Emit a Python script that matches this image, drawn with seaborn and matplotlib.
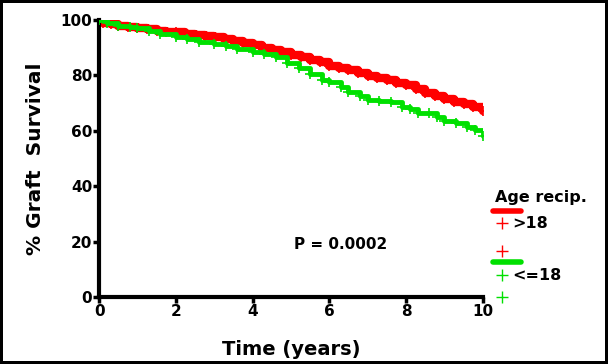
import numpy as np
import pandas as pd
import matplotlib
matplotlib.use("Agg")
import matplotlib.pyplot as plt
import seaborn as sns

# Kaplan-Meier curves (time in years, % graft survival)
t_adult = [0, 0.1, 0.3, 0.5, 0.75, 1.0, 1.25, 1.5, 1.75, 2.0, 2.25, 2.5, 2.75, 3.0,
           3.25, 3.5, 3.75, 4.0, 4.25, 4.5, 4.75, 5.0, 5.25, 5.5, 5.75, 6.0, 6.25,
           6.5, 6.75, 7.0, 7.25, 7.5, 7.75, 8.0, 8.25, 8.5, 8.75, 9.0, 9.25, 9.5,
           9.75, 10.0]
s_adult = [100, 99, 98.5, 98, 97.5, 97, 96.6, 96.2, 95.8, 95.5, 95, 94.6, 94.3, 94,
           93.2, 92.5, 91.8, 91, 90, 89.2, 88.4, 87.5, 86.5, 85.5, 85, 83.5, 82.5,
           82, 81, 79.8, 79, 78.2, 77.3, 76.5, 75, 73.8, 72.6, 71.5, 70.5, 69.6,
           68.5, 67.2]
t_child = [0, 0.2, 0.5, 0.8, 1.0, 1.3, 1.6, 2.0, 2.3, 2.6, 3.0, 3.3, 3.6, 4.0, 4.3,
           4.6, 4.9, 5.2, 5.5, 5.8, 6.0, 6.3, 6.5, 6.8, 7.0, 7.3, 7.6, 7.9, 8.1,
           8.3, 8.6, 8.8, 9.0, 9.3, 9.6, 9.8, 10.0]
s_child = [100, 99, 98, 97.5, 97, 96, 95, 94, 93.2, 92, 91.5, 90.5, 89.5, 88.5, 87.8,
           86.5, 84.5, 82.5, 80.5, 78.5, 77.5, 76, 74, 72.5, 71, 70.8, 70.3, 68.5, 67.8,
           66.5, 66.3, 65, 63.5, 63, 61.5, 60.3, 58.2]
groups = [">18", "<=18"]
colors = ["#ff0000", "#00e000"]

df = pd.concat([
    pd.DataFrame({"t": t_adult, "s": s_adult, "g": groups[0]}),
    pd.DataFrame({"t": t_child, "s": s_child, "g": groups[1]}),
])

sns.set_theme(style="white")
plt.rcParams["font.family"] = ["DejaVu Sans"]
plt.rcParams["font.weight"] = "bold"
plt.rcParams["text.color"] = "black"
plt.rcParams["axes.labelcolor"] = "black"
plt.rcParams["xtick.color"] = "black"
plt.rcParams["ytick.color"] = "black"

fig = plt.figure(figsize=(6.08, 3.64), dpi=100)
ax = fig.add_axes([0.163, 0.184, 0.631, 0.761])

lw = {">18": 6, "<=18": 3.5}
for g, c in zip(groups, colors):
    sub = df[df["g"] == g]
    sns.lineplot(data=sub, x="t", y="s", ax=ax, color=c, estimator=None,
                 drawstyle="steps-post", linewidth=lw[g], marker="+",
                 markersize=7, markeredgewidth=1.2, markeredgecolor=c,
                 legend=False, zorder=3 if g == "<=18" else 2)

ax.set_xlim(0, 10)
ax.set_ylim(0, 100)
ax.set_xticks(np.arange(0, 11, 2))
ax.set_yticks(np.arange(0, 101, 20))
for side in ["top", "right"]:
    ax.spines[side].set_visible(False)
for side in ["left", "bottom"]:
    ax.spines[side].set_linewidth(3)
    ax.spines[side].set_color("black")
ax.tick_params(axis="both", direction="out", length=4, width=2.5, color="black",
               labelcolor="black", labelsize=11, pad=1, left=True, bottom=True)
for lab in ax.get_xticklabels() + ax.get_yticklabels():
    lab.set_fontweight("bold")

ax.set_xlabel("Time (years)", fontsize=14, fontweight="bold", labelpad=15)
ax.set_ylabel("% Graft  Survival", fontsize=14.5, fontweight="bold", labelpad=11)

ax.text(6.3, 19, "P = 0.0002", fontsize=11, fontweight="bold", ha="center", va="center")

# hand-drawn legend at the right of the axes
tr = ax.transAxes
ax.text(1.031, 0.36, "Age recip.", transform=tr, fontsize=11.5, fontweight="bold",
        ha="left", va="center", clip_on=False)
ax.plot([1.026, 1.099], [0.31, 0.31], transform=tr, color=colors[0], lw=4,
        solid_capstyle="round", clip_on=False)
ax.plot([1.049], [0.267], transform=tr, marker="+", color=colors[0], ms=8, mew=1,
        clip_on=False)
ax.text(1.078, 0.267, ">18", transform=tr, fontsize=11.5, fontweight="bold",
        ha="left", va="center", clip_on=False)
ax.plot([1.049], [0.166], transform=tr, marker="+", color=colors[0], ms=8, mew=1,
        clip_on=False)
ax.plot([1.026, 1.099], [0.126, 0.126], transform=tr, color=colors[1], lw=4,
        solid_capstyle="round", clip_on=False)
ax.plot([1.049], [0.079], transform=tr, marker="+", color=colors[1], ms=8, mew=1,
        clip_on=False)
ax.text(1.078, 0.079, "<=18", transform=tr, fontsize=11.5, fontweight="bold",
        ha="left", va="center", clip_on=False)
ax.plot([1.049], [0.0], transform=tr, marker="+", color=colors[1], ms=8, mew=1,
        clip_on=False)

fig.patch.set_edgecolor("black")
fig.patch.set_linewidth(4)

fig.savefig("out.png", dpi=100, edgecolor=fig.get_edgecolor())
